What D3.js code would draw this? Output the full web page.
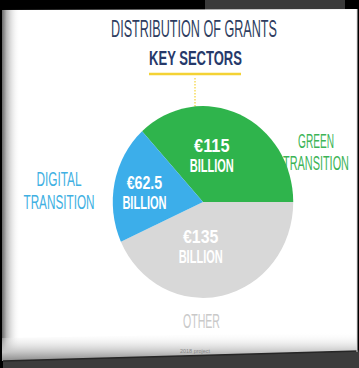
<!DOCTYPE html>
<html>
<head>
<meta charset="utf-8">
<script src="https://cdn.jsdelivr.net/npm/d3@7"></script>
<style>
  html, body { margin: 0; padding: 0; background: #000; }
  svg { display: block; }
</style>
</head>
<body>
<script>
// Grant allocation by key sector (EUR billions)
const sectors = ["Green Transition", "Other", "Digital Transition"];
const amounts = [115, 135, 62.5];
const valueLabels = ["€115", "€135", "€62.5"];
const unitLabel = "BILLION";

const W = 359, H = 368;
const svg = d3.select("body").append("svg").attr("width", W).attr("height", H);
const defs = svg.append("defs");

// ---- slide frame -------------------------------------------------------
const leftShade = defs.append("linearGradient").attr("id", "leftShade")
  .attr("x1", 0).attr("x2", 1).attr("y1", 0).attr("y2", 0);
leftShade.append("stop").attr("offset", 0).attr("stop-color", "#6a6a6a");
leftShade.append("stop").attr("offset", 0.25).attr("stop-color", "#b8b8b8");
leftShade.append("stop").attr("offset", 1).attr("stop-color", "#fff").attr("stop-opacity", 0);

const bottomShade = defs.append("linearGradient").attr("id", "bottomShade")
  .attr("x1", 0).attr("x2", 0).attr("y1", 0).attr("y2", 1);
bottomShade.append("stop").attr("offset", 0).attr("stop-color", "#fff").attr("stop-opacity", 0);
bottomShade.append("stop").attr("offset", 0.7).attr("stop-color", "#c4c4c4");
bottomShade.append("stop").attr("offset", 1).attr("stop-color", "#8c8c8c");

svg.append("rect").attr("x", 0).attr("y", 0).attr("width", W).attr("height", H).attr("fill", "#000");
// monitor strip behind the slide
svg.append("rect").attr("x", 205).attr("y", 0).attr("width", 140).attr("height", 12).attr("fill", "#3a3a3a");
// slide
svg.append("polygon").attr("points", "2,10 357,9 357,352 2,361").attr("fill", "#fff");
svg.append("rect").attr("x", 2).attr("y", 10).attr("width", 18).attr("height", 351).attr("fill", "url(#leftShade)");
svg.append("polygon").attr("points", "2,338 357,332 357,352 2,361").attr("fill", "url(#bottomShade)");
// desk below
svg.append("polygon").attr("points", "3,361 359,351 359,368 3,368").attr("fill", "#3c3c3c");
svg.append("line").attr("x1", 3).attr("y1", 361).attr("x2", 359).attr("y2", 351)
  .attr("stroke", "#262626").attr("stroke-width", 1.5);
svg.append("line").attr("x1", 357).attr("y1", 9).attr("x2", 357).attr("y2", 352)
  .attr("stroke", "#d8d8d8").attr("stroke-width", 1);

// ---- text helper ---------------------------------------------------------
// Draws a stack of centred lines; each line is squeezed horizontally to its
// own target width so the lettering reads as a condensed display face.
function block(parent, lines, x, yBase, gap, size, widths, color, weight) {
  lines.forEach((s, i) => {
    const t = parent.append("text")
      .attr("text-anchor", "middle")
      .attr("font-family", "'Liberation Sans', Arial, sans-serif")
      .attr("font-size", size)
      .attr("font-weight", weight)
      .attr("fill", color)
      .text(s);
    const sx = widths[i] / t.node().getComputedTextLength();
    t.attr("transform", `translate(${x},${yBase + i * gap}) scale(${sx},1)`);
  });
}

// ---- title ---------------------------------------------------------------
block(svg, ["DISTRIBUTION OF GRANTS"], 194, 37, 0, 23.5, [166], "#2e3d60", 400);
block(svg, ["KEY SECTORS"], 195.5, 65, 0, 20.5, [93], "#26396a", 700);
svg.append("line").attr("x1", 149).attr("x2", 241).attr("y1", 74).attr("y2", 74)
  .attr("stroke", "#f4d234").attr("stroke-width", 2.5);
svg.append("line").attr("x1", 195).attr("x2", 195).attr("y1", 78).attr("y2", 108)
  .attr("stroke", "#f4d234").attr("stroke-width", 1.2).attr("stroke-dasharray", "1.5,1.5");

// ---- pie -------------------------------------------------------------------
const colors = d3.scaleOrdinal().domain(sectors).range(["#2fb44c", "#d8d8d8", "#3caeea"]);
const cx = 203, cy = 202, R = 94;
const total = d3.sum(amounts);
const start = Math.PI / 2 - 2 * Math.PI * amounts[0] / total;
const pie = d3.pie().sort(null).startAngle(start).endAngle(start + 2 * Math.PI);
const arcs = pie(amounts);
const arc = d3.arc().innerRadius(0).outerRadius(R);
const labelArc = d3.arc().innerRadius(0).outerRadius(100);

const gPie = svg.append("g").attr("transform", `translate(${cx},${cy}) scale(0.96,1.02)`);
gPie.selectAll("path.slice").data(arcs).join("path")
  .attr("class", "slice")
  .attr("d", arc)
  .attr("fill", (d, i) => colors(sectors[i]));

// value labels, nudged off the centroid to sit inside each wedge
const nudge = [[-11, 1], [-13, -5], [-12, 1]];
arcs.forEach((d, i) => {
  const [x, y] = labelArc.centroid(d);
  block(gPie, [valueLabels[i], unitLabel], x + nudge[i][0], y + nudge[i][1] - 4,
        19.8, 17.5, [37, 46], "#fff", 700);
});

// ---- category labels -------------------------------------------------------
block(svg, ["GREEN", "TRANSITION"], 316, 148, 21.8, 19.4, [36, 66], "#3cb456", 400);
block(svg, ["DIGITAL", "TRANSITION"], 59, 186, 22.5, 19.8, [45, 71], "#40b0e2", 400);
block(svg, ["OTHER"], 201.5, 328, 0, 21, [37], "#c9c9c9", 400);

// footnote
block(svg, ["2018 project"], 195, 353, 0, 5, [30], "#8a8a8a", 400);
</script>
</body>
</html>
